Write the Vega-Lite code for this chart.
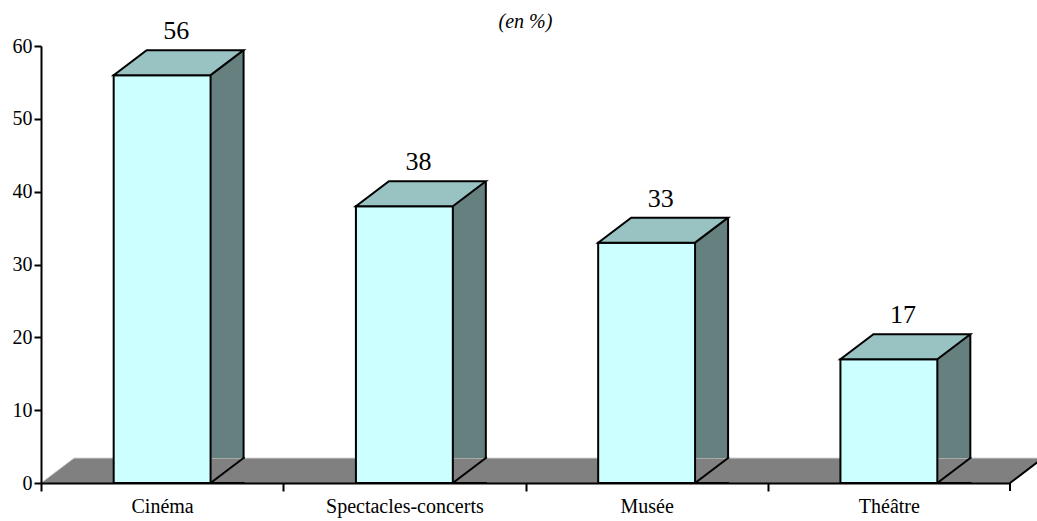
{
  "$schema": "https://vega.github.io/schema/vega-lite/v6.json",
  "width": 969,
  "height": 437,
  "autosize": {"type": "none"},
  "padding": {"left": 41, "top": 46, "right": 27, "bottom": 38},
  "background": "white",
  "config": {"view": {"stroke": null}, "font": "Liberation Serif"},
  "title": {"text": "(en %)", "font": "Liberation Serif", "fontStyle": "italic", "fontSize": 20, "fontWeight": "normal", "color": "black", "offset": -14, "anchor": "middle"},
  "data": {"values": [
    {"cat": "Cinéma", "v": 56},
    {"cat": "Spectacles-concerts", "v": 38},
    {"cat": "Musée", "v": 33},
    {"cat": "Théâtre", "v": 17}
  ]},
  "layer": [
    {
      "transform": [{"filter": "datum.cat == 'Cinéma'"}],
      "mark": {"type": "point", "shape": "M-0.93533,0L-0.87162,-0.04826L0.99903,-0.04826L0.93533,0", "size": 1073296, "filled": true, "fill": "#808080", "stroke": "#D4D4D4", "strokeWidth": 1, "opacity": 1},
      "encoding": {
        "y": {"datum": 0, "type": "quantitative", "scale": {"domain": [0, 60]}, "axis": {"values": [0, 10, 20, 30, 40, 50, 60], "title": null, "grid": false, "labelFont": "Liberation Serif", "labelFontSize": 20, "labelColor": "black", "domainColor": "black", "domainWidth": 2, "tickColor": "black", "tickWidth": 2, "tickSize": 7, "labelPadding": 2, "zindex": 1}}
      }
    },
    {
      "transform": [{"filter": "datum.cat == 'Cinéma'"}],
      "mark": {"type": "point", "shape": "M0.93533,0L0.99903,-0.04826", "size": 1073296, "filled": false, "stroke": "black", "strokeWidth": 2, "opacity": 1},
      "encoding": {
        "y": {"datum": 0, "type": "quantitative"}
      }
    },
    {
      "mark": {"type": "bar", "width": 33, "xOffset": 64.95, "yOffset": -25, "fill": "#668080", "stroke": null},
      "encoding": {
        "x": {"field": "cat", "type": "nominal", "sort": null, "scale": {"paddingInner": 0.6, "paddingOuter": 0.3}, "axis": {"title": null, "labelAngle": 0, "tickOffset": -121.125, "labelOffset": 121.125, "tickSize": 8, "tickWidth": 2, "tickColor": "black", "domainColor": "black", "domainWidth": 2, "labelPadding": 5, "labelFont": "Liberation Serif", "labelFontSize": 20, "labelColor": "black", "zindex": 1}},
        "y": {"field": "v", "type": "quantitative"}
      }
    },
    {
      "mark": {"type": "point", "shape": "M0.99337,-0.31036L0.58373,0L0.99337,0", "size": 27556, "filled": true, "fill": "#808080", "stroke": "black", "strokeWidth": 2, "opacity": 1},
      "encoding": {
        "x": {"field": "cat", "type": "nominal", "sort": null},
        "y": {"datum": 0, "type": "quantitative"}
      }
    },
    {
      "mark": {"type": "rule", "xOffset": 81.45, "yOffset": -25, "y2Offset": -25, "stroke": "black", "strokeWidth": 2},
      "encoding": {
        "x": {"field": "cat", "type": "nominal", "sort": null},
        "y": {"field": "v", "type": "quantitative"},
        "y2": {"datum": 0}
      }
    },
    {
      "mark": {"type": "bar", "fill": "#CCFFFF", "stroke": "black", "strokeWidth": 2},
      "encoding": {
        "x": {"field": "cat", "type": "nominal", "sort": null},
        "y": {"field": "v", "type": "quantitative"}
      }
    },
    {
      "mark": {"type": "point", "shape": "M-0.59085,0L0.59085,0L0.99329,-0.30488L-0.18841,-0.30488Z", "size": 26896, "filled": true, "fill": "#99C2C2", "stroke": "black", "strokeWidth": 2, "opacity": 1},
      "encoding": {
        "x": {"field": "cat", "type": "nominal", "sort": null},
        "y": {"field": "v", "type": "quantitative"}
      }
    },
    {
      "mark": {"type": "text", "xOffset": 14, "yOffset": -36, "baseline": "alphabetic", "align": "center", "font": "Liberation Serif", "fontSize": 26, "color": "black"},
      "encoding": {
        "x": {"field": "cat", "type": "nominal", "sort": null},
        "y": {"field": "v", "type": "quantitative"},
        "text": {"field": "v", "type": "quantitative"}
      }
    },
    {
      "transform": [{"filter": "datum.cat == 'Théâtre'"}],
      "mark": {"type": "rule", "xOffset": 121.125, "y2Offset": 8, "stroke": "black", "strokeWidth": 2},
      "encoding": {
        "x": {"field": "cat", "type": "nominal", "sort": null},
        "y": {"datum": 0},
        "y2": {"datum": 0}
      }
    }
  ]
}
